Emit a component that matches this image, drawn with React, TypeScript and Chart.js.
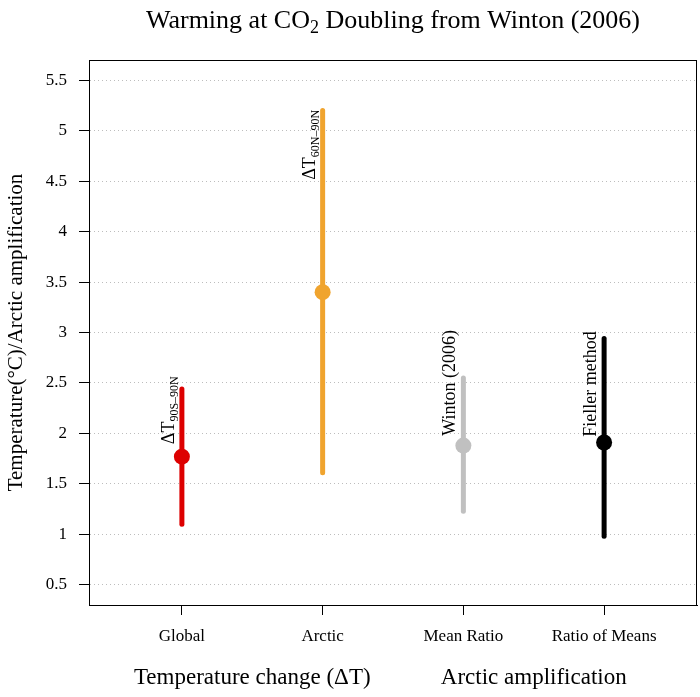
import React, { useEffect, useRef } from "react";
import { Chart, registerables } from "chart.js";

Chart.register(...registerables);

const categories = ["Global", "Arctic", "Mean Ratio", "Ratio of Means"];
const means = [1.77, 3.4, 1.88, 1.91];
const lows = [1.1, 1.61, 1.23, 0.98];
const highs = [2.44, 5.2, 2.55, 2.94];
const colors = ["#dd0000", "#f0a42e", "#c0c0c0", "#000000"];
const labelMain = ["ΔT", "ΔT", "Winton (2006)", "Fieller method"];
const labelSub = ["90S–90N", "60N–90N", "", ""];
const labelCenter = [2.23, 4.86, 2.5, 2.49];
const yTicks = [0.5, 1, 1.5, 2, 2.5, 3, 3.5, 4, 4.5, 5, 5.5];
const yTickLabels = ["0.5", "1", "1.5", "2", "2.5", "3", "3.5", "4", "4.5", "5", "5.5"];
const groupTitles = ["Temperature change (ΔT)", "Arctic amplification"];
const groupCenters = [1.5, 3.5];

const SERIF = "'Liberation Serif', 'DejaVu Serif', serif";

const overlayPlugin = {
  id: "overlay",
  afterDraw(chart: any) {
    const { ctx, chartArea, scales } = chart;
    const xs = scales.x;
    const ys = scales.y;
    ctx.save();
    // box
    ctx.strokeStyle = "#000";
    ctx.lineWidth = 1;
    ctx.setLineDash([]);
    ctx.strokeRect(
      Math.round(chartArea.left) + 0.5,
      Math.round(chartArea.top) + 0.5,
      Math.round(chartArea.right - chartArea.left) - 1,
      Math.round(chartArea.bottom - chartArea.top)
    );
    ctx.fillStyle = "#000";
    // title
    const mainFont = "26px " + SERIF;
    const subFont = "18px " + SERIF;
    const t1 = "Warming at CO";
    const t2 = "2";
    const t3 = " Doubling from Winton (2006)";
    ctx.font = mainFont;
    const w1 = ctx.measureText(t1).width;
    const w3 = ctx.measureText(t3).width;
    ctx.font = subFont;
    const w2 = ctx.measureText(t2).width;
    const total = w1 + w2 + w3;
    let tx = (chartArea.left + chartArea.right) / 2 - total / 2;
    const tb = 28;
    ctx.textBaseline = "alphabetic";
    ctx.textAlign = "left";
    ctx.font = mainFont;
    ctx.fillText(t1, tx, tb);
    ctx.font = subFont;
    ctx.fillText(t2, tx + w1, tb + 5);
    ctx.font = mainFont;
    ctx.fillText(t3, tx + w1 + w2, tb);

    // group titles
    ctx.font = "23px " + SERIF;
    ctx.textAlign = "center";
    groupTitles.forEach((g, i) => {
      ctx.fillText(g, xs.getPixelForValue(groupCenters[i]), 684);
    });

    // y title
    ctx.save();
    ctx.translate(22, (chartArea.top + chartArea.bottom) / 2);
    ctx.rotate(-Math.PI / 2);
    ctx.font = "21px " + SERIF;
    ctx.textAlign = "center";
    ctx.fillText("Temperature(°C)/Arctic amplification", 0, 0);
    ctx.restore();

    // point labels
    const lf = "18px " + SERIF;
    const sf = "12px " + SERIF;
    categories.forEach((_, i) => {
      const x = xs.getPixelForValue(i + 1) - 8;
      const y = ys.getPixelForValue(labelCenter[i]);
      ctx.font = lf;
      const mw = ctx.measureText(labelMain[i]).width;
      ctx.font = sf;
      const sw = labelSub[i] ? ctx.measureText(labelSub[i]).width : 0;
      const tw = mw + sw;
      ctx.save();
      ctx.translate(x, y);
      ctx.rotate(-Math.PI / 2);
      ctx.textAlign = "left";
      ctx.font = lf;
      ctx.fillText(labelMain[i], -tw / 2, 0);
      if (labelSub[i]) {
        ctx.font = sf;
        ctx.fillText(labelSub[i], -tw / 2 + mw, 4);
      }
      ctx.restore();
    });
    ctx.restore();
  },
};

export default function App() {
  const ref = useRef<HTMLCanvasElement | null>(null);
  useEffect(() => {
    document.body.style.margin = "0";
    const canvas = ref.current!;
    const barSets = categories.map((c, i) => ({
      type: "scatter" as const,
      label: c,
      data: [
        { x: i + 1, y: lows[i] },
        { x: i + 1, y: highs[i] },
      ],
      showLine: true,
      borderColor: colors[i],
      borderWidth: 5,
      borderCapStyle: "round" as const,
      pointRadius: 0,
      order: 2,
    }));
    const pointSet = {
      type: "scatter" as const,
      label: "mean",
      data: means.map((m, i) => ({ x: i + 1, y: m })),
      pointRadius: 8,
      pointBackgroundColor: colors,
      pointBorderWidth: 0,
      showLine: false,
      order: 1,
    };
    const chart = new Chart(canvas, {
      type: "scatter",
      data: { datasets: [...barSets, pointSet] as any },
      options: {
        animation: false,
        responsive: false,
        devicePixelRatio: 1,
        layout: { autoPadding: false, padding: { top: 60, right: 3, left: 0, bottom: 0 } },
        plugins: { legend: { display: false }, tooltip: { enabled: false }, title: { display: false } },
        scales: {
          x: {
            type: "linear",
            min: 0.34,
            max: 4.66,
            afterBuildTicks: (s: any) => {
              s.ticks = categories.map((_, i) => ({ value: i + 1 }));
            },
            afterFit: (s: any) => {
              s.height = 92;
              s.paddingLeft = 0;
              s.paddingRight = 0;
            },
            ticks: {
              callback: (_v: any, idx: number) => categories[idx],
              font: { family: SERIF, size: 17 },
              color: "#000",
              padding: 11,
              maxRotation: 0,
              autoSkip: false,
            },
            grid: {
              drawOnChartArea: false,
              drawTicks: true,
              tickLength: 10,
              tickColor: "#000",
              tickWidth: 1,
            },
            border: { display: true, color: "#000", width: 1 },
          },
          y: {
            type: "linear",
            min: 0.3,
            max: 5.7,
            afterBuildTicks: (s: any) => {
              s.ticks = yTicks.map((v) => ({ value: v }));
            },
            afterFit: (s: any) => {
              s.width = 89;
              s.paddingTop = 0;
              s.paddingBottom = 0;
            },
            ticks: {
              callback: (_v: any, idx: number) => yTickLabels[idx],
              font: { family: SERIF, size: 17 },
              color: "#000",
              padding: 12,
              autoSkip: false,
            },
            grid: {
              color: "#bdbdbd",
              lineWidth: 1,
              drawTicks: true,
              tickLength: 10,
              tickColor: "#000",
              tickWidth: 1,
              tickBorderDash: [],
            },
            border: { display: true, color: "#000", width: 1, dash: [1, 3] },
          },
        },
      },
      plugins: [overlayPlugin],
    });
    return () => chart.destroy();
  }, []);
  return (
    <div style={{ position: "absolute", left: 0, top: 0, width: 700, height: 697, background: "#fff" }}>
      <canvas ref={ref} width={700} height={697} style={{ width: 700, height: 697 }} />
    </div>
  );
}
